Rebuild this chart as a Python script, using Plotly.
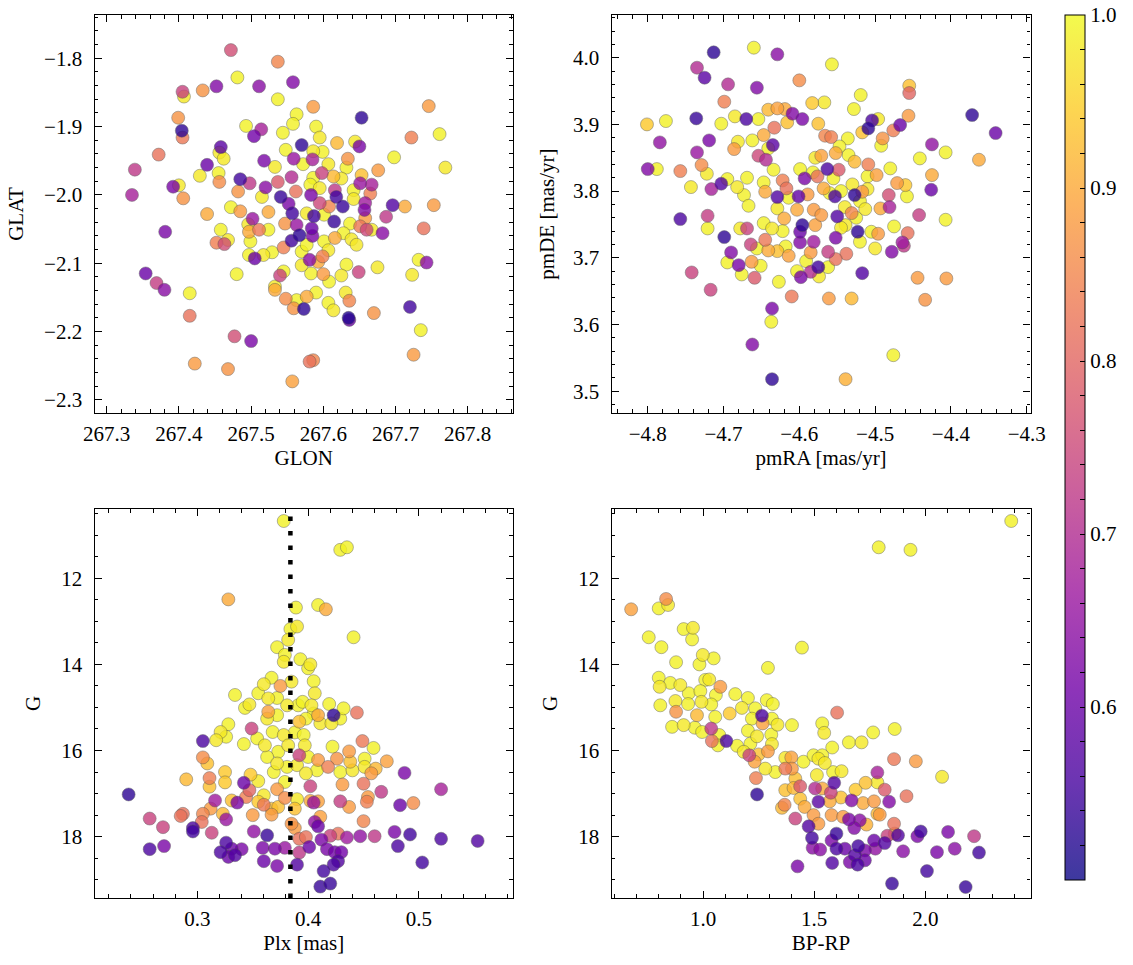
import plotly.graph_objects as go
import plotly.colors as pc

# ---------------- data ----------------
# Panel 1: sky position (GLON, GLAT) and membership probability
glon = [
    267.472, 267.537, 267.481, 267.558, 267.452, 267.511, 267.405, 267.407, 267.433, 267.537,
    267.399, 267.563, 267.558, 267.493, 267.514, 267.504, 267.404, 267.405, 267.544, 267.570,
    267.458, 267.456, 267.462, 267.548, 267.372, 267.559, 267.439, 267.518, 267.533, 267.339,
    267.429, 267.455, 267.456, 267.485, 267.498, 267.537, 267.556, 267.400, 267.392, 267.520,
    267.335, 267.406, 267.482, 267.515, 267.541, 267.552, 267.562, 267.472, 267.485, 267.439,
    267.524, 267.557, 267.502, 267.496, 267.511, 267.524, 267.547, 267.563, 267.381, 267.458,
    267.497, 267.567, 267.452, 267.463, 267.468, 267.499, 267.556, 267.545, 267.570, 267.497,
    267.505, 267.517, 267.529, 267.570, 267.354, 267.480, 267.545, 267.540, 267.369, 267.380,
    267.533, 267.533, 267.415, 267.548, 267.563, 267.559, 267.415, 267.477, 267.500, 267.422,
    267.468, 267.557,
    267.586, 267.746, 267.653, 267.722, 267.761, 267.590, 267.595, 267.619, 267.644, 267.650,
    267.586, 267.599, 267.698, 267.769, 267.572, 267.585, 267.607, 267.634, 267.632, 267.676,
    267.598, 267.614, 267.625, 267.653, 267.586, 267.582, 267.595, 267.616, 267.651, 267.667,
    267.665, 267.642, 267.583, 267.618, 267.642, 267.595, 267.608, 267.627, 267.658, 267.657,
    267.696, 267.713, 267.753, 267.687, 267.587, 267.601, 267.577, 267.615, 267.637, 267.658,
    267.651, 267.660, 267.667, 267.682, 267.739, 267.584, 267.585, 267.616, 267.628, 267.639,
    267.646, 267.601, 267.577, 267.607, 267.581, 267.599, 267.593, 267.632, 267.675, 267.649,
    267.732, 267.743, 267.583, 267.600, 267.608, 267.625, 267.723, 267.590, 267.577, 267.631,
    267.607, 267.614, 267.636, 267.573, 267.635, 267.636, 267.670, 267.720, 267.735, 267.581,
    267.586, 267.725,
]
glat = [
    -1.788, -1.805, -1.828, -1.835, -1.841, -1.841, -1.849, -1.856, -1.847, -1.860,
    -1.887, -1.882, -1.896, -1.899, -1.904, -1.914, -1.906, -1.916, -1.909, -1.927,
    -1.930, -1.938, -1.947, -1.934, -1.941, -1.947, -1.956, -1.950, -1.959, -1.963,
    -1.972, -1.968, -1.981, -1.977, -1.983, -1.981, -1.974, -1.986, -1.988, -1.989,
    -2.000, -2.005, -1.995, -2.003, -2.003, -2.013, -1.995, -2.018, -2.024, -2.028,
    -2.025, -2.027, -2.035, -2.043, -2.051, -2.051, -2.042, -2.044, -2.054, -2.051,
    -2.054, -2.059, -2.070, -2.072, -2.066, -2.068, -2.067, -2.077, -2.083, -2.088,
    -2.093, -2.088, -2.084, -2.103, -2.115, -2.116, -2.112, -2.118, -2.129, -2.139,
    -2.134, -2.139, -2.144, -2.152, -2.154, -2.166, -2.177, -2.207, -2.214, -2.247,
    -2.255, -2.273,
    -1.871, -1.870, -1.887, -1.916, -1.911, -1.900, -1.916, -1.924, -1.922, -1.929,
    -1.936, -1.937, -1.945, -1.960, -1.955, -1.948, -1.955, -1.947, -1.960, -1.964,
    -1.968, -1.973, -1.976, -1.971, -1.975, -1.985, -1.990, -1.993, -1.983, -1.985,
    -1.998, -1.993, -2.000, -2.003, -2.006, -2.012, -2.017, -2.017, -2.012, -2.022,
    -2.015, -2.017, -2.015, -2.032, -2.031, -2.029, -2.027, -2.039, -2.042, -2.034,
    -2.046, -2.051, -2.051, -2.056, -2.049, -2.049, -2.060, -2.063, -2.056, -2.065,
    -2.073, -2.068, -2.073, -2.081, -2.095, -2.090, -2.098, -2.102, -2.106, -2.113,
    -2.095, -2.099, -2.115, -2.116, -2.127, -2.118, -2.117, -2.143, -2.149, -2.143,
    -2.158, -2.169, -2.155, -2.167, -2.180, -2.183, -2.173, -2.164, -2.198, -2.244,
    -2.242, -2.234,
]
prob_sky = [
    0.76, 0.85, 0.99, 0.63, 0.63, 0.64, 0.74, 0.98, 0.87, 0.99,
    0.87, 0.99, 0.99, 0.99, 0.68, 0.61, 0.53, 0.83, 0.99, 0.53,
    0.58, 0.98, 0.98, 0.99, 0.82, 0.66, 0.60, 0.62, 0.98, 0.72,
    0.98, 0.99, 0.86, 0.55, 0.72, 0.78, 0.70, 0.98, 0.62, 0.64,
    0.68, 0.87, 0.87, 0.98, 0.54, 0.62, 0.82, 0.99, 0.88, 0.90,
    0.90, 0.55, 0.66, 0.98, 0.83, 0.99, 0.87, 0.66, 0.62, 0.99,
    0.90, 0.53, 0.84, 0.76, 0.98, 0.99, 0.55, 0.84, 0.99, 0.99,
    0.60, 0.98, 0.99, 0.98, 0.60, 0.99, 0.99, 0.74, 0.73, 0.64,
    0.98, 0.90, 0.99, 0.86, 0.99, 0.87, 0.82, 0.76, 0.62, 0.88,
    0.87, 0.89,
    0.88, 0.88, 0.53, 0.84, 0.99, 0.99, 0.98, 0.92, 0.98, 0.62,
    0.98, 0.99, 0.99, 0.98, 0.99, 0.68, 0.98, 0.87, 0.99, 0.88,
    0.74, 0.92, 0.98, 0.93, 0.99, 0.99, 0.98, 0.72, 0.66, 0.68,
    0.84, 0.99, 0.62, 0.55, 0.98, 0.75, 0.85, 0.54, 0.67, 0.63,
    0.57, 0.90, 0.88, 0.72, 0.55, 0.99, 0.98, 0.54, 0.99, 0.88,
    0.83, 0.75, 0.98, 0.64, 0.82, 0.60, 0.62, 0.90, 0.99, 0.98,
    0.98, 0.99, 0.99, 0.98, 0.64, 0.84, 0.90, 0.99, 0.98, 0.74,
    0.99, 0.64, 0.99, 0.88, 0.99, 0.98, 0.98, 0.99, 0.90, 0.98,
    0.99, 0.98, 0.85, 0.53, 0.52, 0.60, 0.87, 0.55, 0.99, 0.82,
    0.85, 0.88,
]

# Panel 2: proper motions
pmra = [
    -4.660, -4.713, -4.629, -4.735, -4.725, -4.600, -4.694, -4.656, -4.699, -4.583,
    -4.641, -4.629, -4.619, -4.609, -4.596, -4.685, -4.670, -4.654, -4.736, -4.801,
    -4.776, -4.703, -4.616, -4.575, -4.633, -4.784, -4.719, -4.681, -4.662, -4.647,
    -4.635, -4.686, -4.641, -4.735, -4.654, -4.644, -4.579, -4.800, -4.788, -4.757,
    -4.729, -4.722, -4.634, -4.599, -4.582, -4.743, -4.716, -4.703, -4.695, -4.682,
    -4.669, -4.647, -4.622, -4.617, -4.593, -4.576, -4.673, -4.645, -4.629, -4.614,
    -4.601, -4.589, -4.667, -4.629, -4.603, -4.581, -4.757, -4.721, -4.647, -4.620,
    -4.596, -4.579, -4.721, -4.678, -4.669, -4.636, -4.622, -4.599, -4.699, -4.645,
    -4.664, -4.656, -4.641, -4.629, -4.618, -4.614, -4.599, -4.585, -4.581, -4.690,
    -4.695, -4.680, -4.663, -4.651, -4.591, -4.575, -4.742, -4.676, -4.659, -4.603,
    -4.598, -4.585, -4.574, -4.717, -4.627, -4.610, -4.636, -4.637, -4.662, -4.636,
    -4.557, -4.455, -4.455, -4.519, -4.567, -4.528, -4.456, -4.372, -4.341, -4.496,
    -4.504, -4.509, -4.517, -4.467, -4.476, -4.566, -4.558, -4.536, -4.490, -4.492,
    -4.425, -4.407, -4.441, -4.363, -4.547, -4.552, -4.535, -4.527, -4.571, -4.509,
    -4.563, -4.548, -4.555, -4.480, -4.510, -4.498, -4.425, -4.471, -4.460, -4.426,
    -4.568, -4.553, -4.527, -4.517, -4.482, -4.458, -4.481, -4.493, -4.513, -4.442,
    -4.407, -4.550, -4.531, -4.571, -4.475, -4.539, -4.523, -4.496, -4.457, -4.505,
    -4.520, -4.464, -4.462, -4.552, -4.500, -4.478, -4.562, -4.538, -4.552, -4.562,
    -4.517, -4.444, -4.406, -4.434, -4.561, -4.531, -4.476, -4.539,
    -4.545, -4.530, -4.520, -4.540, -4.560, -4.510, -4.525, -4.545,
]
pmde = [
    4.015, 4.008, 4.005, 3.985, 3.970, 3.966, 3.960, 3.955, 3.934, 3.932,
    3.922, 3.924, 3.923, 3.916, 3.908, 3.912, 3.908, 3.908, 3.909, 3.900,
    3.905, 3.901, 3.903, 3.901, 3.895, 3.873, 3.876, 3.874, 3.876, 3.884,
    3.869, 3.863, 3.864, 3.858, 3.853, 3.847, 3.850, 3.833, 3.833, 3.830,
    3.839, 3.826, 3.832, 3.833, 3.828, 3.806, 3.803, 3.811, 3.818, 3.806,
    3.820, 3.813, 3.816, 3.804, 3.819, 3.822, 3.794, 3.799, 3.791, 3.790,
    3.792, 3.795, 3.778, 3.774, 3.772, 3.772, 3.758, 3.763, 3.752, 3.759,
    3.749, 3.749, 3.744, 3.744, 3.744, 3.744, 3.740, 3.739, 3.731, 3.727,
    3.720, 3.714, 3.711, 3.710, 3.717, 3.703, 3.723, 3.708, 3.724, 3.708,
    3.693, 3.689, 3.694, 3.688, 3.695, 3.686, 3.678, 3.675, 3.670, 3.680,
    3.671, 3.679, 3.672, 3.652, 3.664, 3.642, 3.624, 3.604, 3.570, 3.518,
    3.990, 3.958, 3.947, 3.944, 3.933, 3.923, 3.913, 3.914, 3.887, 3.908,
    3.906, 3.894, 3.888, 3.899, 3.891, 3.883, 3.881, 3.879, 3.879, 3.868,
    3.870, 3.858, 3.849, 3.847, 3.867, 3.857, 3.854, 3.844, 3.853, 3.840,
    3.833, 3.832, 3.819, 3.834, 3.822, 3.824, 3.824, 3.812, 3.809, 3.802,
    3.804, 3.792, 3.794, 3.799, 3.794, 3.792, 3.776, 3.774, 3.773, 3.764,
    3.757, 3.762, 3.767, 3.764, 3.747, 3.749, 3.739, 3.736, 3.737, 3.739,
    3.724, 3.723, 3.718, 3.730, 3.714, 3.709, 3.709, 3.706, 3.698, 3.686,
    3.677, 3.670, 3.669, 3.637, 3.639, 3.639, 3.554, 3.518,
    3.800, 3.810, 3.785, 3.776, 3.797, 3.803, 3.760, 3.745,
]
prob_pm = [
    0.99, 0.53, 0.64, 0.70, 0.58, 0.86, 0.70, 0.63, 0.84, 0.94,
    0.92, 0.89, 0.90, 0.63, 0.62, 0.98, 0.56, 0.99, 0.54, 0.94,
    0.99, 0.99, 0.93, 0.93, 0.82, 0.65, 0.62, 0.98, 0.99, 0.90,
    0.58, 0.88, 0.99, 0.66, 0.75, 0.70, 0.98, 0.63, 0.99, 0.84,
    0.86, 0.98, 0.99, 0.99, 0.99, 0.98, 0.68, 0.57, 0.99, 0.98,
    0.99, 0.99, 0.84, 0.82, 0.62, 0.82, 0.99, 0.90, 0.57, 0.99,
    0.59, 0.88, 0.99, 0.98, 0.90, 0.88, 0.56, 0.73, 0.99, 0.90,
    0.53, 0.89, 0.99, 0.98, 0.74, 0.98, 0.99, 0.60, 0.53, 0.83,
    0.74, 0.99, 0.90, 0.93, 0.99, 0.89, 0.63, 0.88, 0.67, 0.63,
    0.99, 0.62, 0.88, 0.99, 0.99, 0.55, 0.74, 0.99, 0.78, 0.99,
    0.62, 0.70, 0.98, 0.74, 0.99, 0.83, 0.62, 0.99, 0.63, 0.53,
    0.99, 0.93, 0.80, 0.99, 0.98, 0.99, 0.88, 0.53, 0.60, 0.98,
    0.56, 0.53, 0.93, 0.60, 0.84, 0.85, 0.84, 0.99, 0.87, 0.99,
    0.65, 0.99, 0.99, 0.90, 0.99, 0.90, 0.99, 0.92, 0.89, 0.84,
    0.56, 0.78, 0.99, 0.99, 0.99, 0.89, 0.90, 0.88, 0.94, 0.60,
    0.90, 0.56, 0.53, 0.88, 0.76, 0.99, 0.68, 0.90, 0.98, 0.73,
    0.99, 0.57, 0.85, 0.88, 0.99, 0.98, 0.53, 0.88, 0.82, 0.99,
    0.99, 0.67, 0.72, 0.62, 0.98, 0.63, 0.73, 0.82, 0.82, 0.99,
    0.57, 0.88, 0.88, 0.87, 0.88, 0.92, 0.99, 0.91,
    0.99, 0.98, 0.99, 0.98, 0.99, 0.98, 0.99, 0.98,
]

# Panel 3: parallax vs G magnitude
plx = [
    0.378, 0.328, 0.389, 0.384, 0.390, 0.372, 0.382, 0.379, 0.378, 0.393,
    0.367, 0.360, 0.375, 0.385, 0.334, 0.347, 0.343, 0.355, 0.364, 0.372,
    0.364, 0.363, 0.372, 0.381, 0.391, 0.392, 0.328, 0.321, 0.326, 0.317,
    0.349, 0.354, 0.368, 0.378, 0.388, 0.342, 0.361, 0.373, 0.305, 0.382,
    0.392, 0.363, 0.372, 0.381, 0.390, 0.305, 0.309, 0.369, 0.290, 0.311,
    0.325, 0.325, 0.311, 0.348, 0.355, 0.342, 0.347, 0.379, 0.238, 0.331,
    0.316, 0.336, 0.344, 0.360, 0.372, 0.379, 0.390, 0.355, 0.360, 0.367,
    0.373, 0.388, 0.312, 0.287, 0.285, 0.305, 0.323, 0.350, 0.367, 0.326,
    0.304, 0.257, 0.269, 0.385, 0.388, 0.296, 0.296, 0.313, 0.351, 0.363,
    0.392, 0.257, 0.270, 0.326, 0.321, 0.331, 0.340, 0.334, 0.328, 0.359,
    0.370, 0.379, 0.392, 0.360, 0.372, 0.390,
    0.429, 0.435, 0.409, 0.416, 0.441, 0.402, 0.400, 0.405, 0.406, 0.395,
    0.403, 0.409, 0.405, 0.398, 0.411, 0.419, 0.423, 0.429, 0.432, 0.421,
    0.444, 0.396, 0.397, 0.400, 0.409, 0.418, 0.408, 0.398, 0.422, 0.426,
    0.429, 0.437, 0.438, 0.440, 0.449, 0.459, 0.451, 0.451, 0.461, 0.457,
    0.450, 0.471, 0.431, 0.402, 0.487, 0.520, 0.402, 0.405, 0.409, 0.429,
    0.437, 0.454, 0.453, 0.466, 0.483, 0.495, 0.411, 0.406, 0.409, 0.450,
    0.398, 0.412, 0.420, 0.427, 0.435, 0.447, 0.460, 0.478, 0.492, 0.520,
    0.553, 0.481, 0.401, 0.417, 0.424, 0.430, 0.427, 0.423, 0.414, 0.503,
    0.411, 0.420,
]
g_plx = [
    10.67, 12.49, 12.68, 13.18, 13.12, 13.60, 13.43, 13.78, 13.94, 13.88,
    14.31, 14.46, 14.50, 14.40, 14.71, 14.93, 15.01, 14.67, 14.79, 14.78,
    15.10, 15.26, 15.18, 14.95, 14.95, 15.33, 15.39, 15.57, 15.68, 15.76,
    15.49, 15.72, 15.57, 15.64, 15.58, 15.85, 15.88, 16.03, 15.78, 15.88,
    16.11, 16.15, 16.30, 16.38, 16.34, 16.16, 16.30, 16.50, 16.67, 16.64,
    16.50, 16.74, 16.84, 16.56, 16.71, 16.75, 16.92, 16.73, 17.02, 17.16,
    17.16, 17.21, 17.08, 17.04, 16.90, 17.10, 17.13, 17.19, 17.26, 17.35,
    17.31, 17.35, 17.35, 17.47, 17.52, 17.47, 17.47, 17.50, 17.49, 17.60,
    17.66, 17.58, 17.78, 17.70, 17.80, 17.80, 17.88, 17.91, 17.88, 17.97,
    18.05, 18.29, 18.22, 18.14, 18.36, 18.28, 18.29, 18.43, 18.47, 18.26,
    18.28, 18.26, 18.37, 18.57, 18.68, 18.65,
    11.34, 11.28, 12.62, 12.72, 13.37, 14.00, 14.09, 14.39, 14.67, 14.87,
    14.95, 15.18, 15.14, 15.26, 15.37, 14.92, 15.18, 15.26, 15.02, 15.37,
    15.12, 15.64, 15.88, 16.15, 16.22, 16.38, 16.46, 16.53, 15.91, 16.19,
    16.50, 16.02, 16.26, 16.46, 15.78, 15.94, 16.19, 16.38, 16.42, 16.53,
    16.77, 16.25, 16.79, 16.83, 16.52, 16.90, 17.17, 17.21, 17.18, 17.18,
    17.31, 17.08, 17.19, 16.96, 17.27, 17.22, 17.54, 17.66, 17.76, 17.64,
    18.01, 18.07, 17.98, 17.93, 18.02, 17.99, 17.99, 17.89, 17.95, 18.05,
    18.10, 18.22, 18.24, 18.29, 18.36, 18.36, 18.57, 18.65, 18.80, 18.60,
    19.16, 19.09,
]
prob_plx = [
    0.99, 0.90, 0.99, 0.99, 0.98, 0.99, 0.98, 0.99, 0.98, 0.99,
    0.99, 0.98, 0.88, 0.98, 0.99, 0.98, 0.99, 0.99, 0.98, 0.99,
    0.89, 0.98, 0.99, 0.98, 0.99, 0.93, 0.99, 0.98, 0.99, 0.98,
    0.74, 0.99, 0.99, 0.98, 0.99, 0.99, 0.98, 0.99, 0.56, 0.98,
    0.74, 0.99, 0.98, 0.99, 0.98, 0.86, 0.93, 0.99, 0.92, 0.84,
    0.94, 0.94, 0.93, 0.94, 0.98, 0.60, 0.80, 0.99, 0.53, 0.93,
    0.67, 0.62, 0.84, 0.98, 0.88, 0.86, 0.98, 0.94, 0.83, 0.93,
    0.93, 0.93, 0.88, 0.82, 0.82, 0.85, 0.92, 0.88, 0.88, 0.66,
    0.82, 0.74, 0.74, 0.87, 0.88, 0.56, 0.55, 0.74, 0.65, 0.54,
    0.82, 0.56, 0.62, 0.56, 0.56, 0.60, 0.62, 0.57, 0.60, 0.62,
    0.62, 0.66, 0.72, 0.60, 0.62, 0.57,
    0.99, 0.99, 0.99, 0.90, 0.99, 0.98, 0.99, 0.99, 0.98, 0.99,
    0.98, 0.90, 0.99, 0.99, 0.98, 0.99, 0.53, 0.99, 0.99, 0.98,
    0.82, 0.99, 0.98, 0.99, 0.88, 0.84, 0.99, 0.98, 0.99, 0.87,
    0.99, 0.88, 0.93, 0.98, 0.83, 0.99, 0.99, 0.98, 0.92, 0.88,
    0.82, 0.89, 0.88, 0.74, 0.62, 0.68, 0.90, 0.66, 0.89, 0.73,
    0.88, 0.88, 0.84, 0.72, 0.60, 0.86, 0.89, 0.65, 0.60, 0.85,
    0.82, 0.62, 0.74, 0.82, 0.67, 0.65, 0.72, 0.62, 0.55, 0.56,
    0.57, 0.56, 0.60, 0.62, 0.61, 0.61, 0.57, 0.56, 0.55, 0.55,
    0.54, 0.54,
]

# Panel 4: colour-magnitude diagram
bp_rp = [
    0.677, 0.834, 0.801, 0.843, 0.756, 0.813, 0.913, 0.955, 0.951, 0.879,
    0.999, 1.048, 0.984, 1.445, 1.292, 0.801, 0.805, 0.853, 0.898, 0.936,
    1.010, 1.028, 0.988, 1.078, 1.058, 0.808, 0.876, 0.879, 0.933, 0.993,
    0.973, 1.037, 1.055, 1.145, 1.202, 1.175, 1.120, 1.235, 1.287, 1.314,
    0.861, 0.913, 0.963, 0.996, 1.037, 1.040, 1.073, 1.105, 1.067, 1.153,
    1.183, 1.220, 1.265, 1.268, 1.310, 1.335, 1.400, 1.202, 1.243, 1.307,
    1.213, 1.310, 1.208, 1.250, 1.292, 1.232, 1.280, 1.325, 1.370, 1.397,
    1.452, 1.497, 1.519, 1.238, 1.370, 1.400, 1.415, 1.437, 1.370, 1.407,
    1.512, 1.243, 1.355, 1.367, 1.437, 1.457, 1.504, 1.519, 1.497, 1.415,
    1.475, 1.519, 1.490, 1.493, 1.527, 1.425,
    2.386, 1.790, 1.933, 1.603, 1.536, 1.545, 1.581, 1.656, 1.713, 1.765,
    1.862, 1.859, 1.957, 2.075, 1.536, 1.548, 1.585, 1.623, 1.784, 1.784,
    1.731, 1.686, 1.817, 1.590, 1.536, 1.575, 1.620, 1.915, 1.570, 1.668,
    1.720, 1.769, 1.837, 1.784, 1.795, 1.578, 1.630, 1.656, 1.705, 1.735,
    1.680, 1.859, 1.862, 1.877, 1.829, 1.769, 1.817, 1.600, 1.578, 1.600,
    1.638, 1.698, 1.728, 1.775, 1.683, 1.728, 1.695, 1.581, 1.660, 1.900,
    1.964, 1.979, 2.052, 2.102, 2.132, 2.219, 2.241, 2.007, 1.850, 2.181,
]
g_cmd = [
    12.72, 12.48, 12.70, 12.62, 13.37, 13.60, 13.18, 13.15, 13.42, 13.95,
    13.78, 13.86, 14.00, 13.61, 14.08, 14.31, 14.52, 14.43, 14.48, 14.67,
    14.36, 14.35, 14.62, 14.52, 14.71, 14.95, 14.85, 15.10, 14.92, 14.87,
    15.18, 14.93, 15.22, 14.69, 14.78, 15.01, 15.14, 15.02, 14.83, 14.92,
    15.45, 15.41, 15.47, 15.57, 15.49, 15.78, 15.64, 15.78, 15.88, 15.89,
    16.03, 15.26, 15.19, 15.37, 15.26, 15.40, 15.41, 15.54, 15.67, 15.63,
    15.84, 15.85, 16.11, 16.09, 16.02, 16.26, 16.42, 16.50, 16.17, 16.16,
    16.26, 16.11, 16.19, 16.64, 16.42, 16.42, 16.65, 16.83, 16.92, 16.87,
    16.57, 17.02, 17.33, 17.26, 17.12, 17.31, 16.88, 17.19, 17.50, 17.58,
    17.76, 17.70, 18.03, 18.26, 18.30, 18.69,
    10.67, 11.28, 11.34, 15.12, 15.37, 15.59, 15.93, 15.81, 15.81, 15.58,
    15.50, 16.20, 16.25, 16.61, 16.11, 16.29, 16.50, 16.48, 16.51, 16.74,
    16.75, 16.91, 16.91, 16.75, 16.88, 16.98, 17.09, 17.06, 17.18, 17.16,
    17.22, 17.18, 17.19, 17.47, 17.49, 17.50, 17.54, 17.60, 17.62, 17.72,
    17.80, 17.70, 17.93, 17.97, 17.98, 18.09, 18.15, 17.93, 18.09, 18.28,
    18.28, 18.22, 18.32, 18.28, 18.43, 18.55, 18.65, 18.61, 18.59, 18.34,
    17.99, 17.88, 18.36, 17.89, 18.28, 17.99, 18.37, 18.80, 19.09, 19.17,
]
prob_cmd = [
    0.89, 0.86, 0.99, 0.98, 0.99, 0.99, 0.99, 0.98, 0.99, 0.99,
    0.98, 0.99, 0.99, 0.99, 0.99, 0.99, 0.98, 0.99, 0.98, 0.99,
    0.99, 0.98, 0.99, 0.88, 0.99, 0.99, 0.98, 0.87, 0.99, 0.98,
    0.92, 0.99, 0.99, 0.99, 0.99, 0.98, 0.94, 0.99, 0.99, 0.99,
    0.99, 0.98, 0.99, 0.99, 0.72, 0.82, 0.99, 0.56, 0.99, 0.99,
    0.98, 0.99, 0.56, 0.89, 0.99, 0.98, 0.99, 0.99, 0.98, 0.99,
    0.99, 0.98, 0.74, 0.93, 0.88, 0.89, 0.98, 0.99, 0.98, 0.89,
    0.99, 0.99, 0.98, 0.84, 0.83, 0.88, 0.93, 0.78, 0.93, 0.92,
    0.98, 0.53, 0.92, 0.85, 0.93, 0.90, 0.70, 0.58, 0.88, 0.74,
    0.57, 0.88, 0.55, 0.64, 0.64, 0.62,
    0.99, 0.99, 0.99, 0.82, 0.99, 0.98, 0.99, 0.99, 0.98, 0.99,
    0.99, 0.83, 0.88, 0.98, 0.99, 0.98, 0.99, 0.98, 0.68, 0.98,
    0.93, 0.94, 0.78, 0.57, 0.90, 0.74, 0.93, 0.82, 0.90, 0.63,
    0.90, 0.88, 0.63, 0.92, 0.88, 0.88, 0.88, 0.62, 0.64, 0.91,
    0.63, 0.82, 0.88, 0.57, 0.74, 0.60, 0.57, 0.54, 0.62, 0.56,
    0.60, 0.55, 0.62, 0.65, 0.57, 0.60, 0.56, 0.57, 0.62, 0.64,
    0.62, 0.55, 0.62, 0.62, 0.64, 0.72, 0.55, 0.55, 0.54, 0.54,
]

plx_ref = 0.384            # reference parallax (dotted line)
prob_min, prob_max = 0.5, 1.0
cbar_ticks = [0.6, 0.7, 0.8, 0.9, 1.0]

# ---------------- styling ----------------
FONT = "Liberation Serif"
FS = 21
ALPHA = 0.8

plasma = pc.sequential.Plasma
cscale = [[i / (len(plasma) - 1), c] for i, c in enumerate(plasma)]


def blend(hexc, a=ALPHA):
    r, g, b = pc.hex_to_rgb(hexc)
    return "rgb({:.0f},{:.0f},{:.0f})".format(r * a + 255 * (1 - a), g * a + 255 * (1 - a), b * a + 255 * (1 - a))


cscale_bar = [[i / (len(plasma) - 1), blend(c)] for i, c in enumerate(plasma)]


def scatter(x, y, p, xa, ya):
    order = sorted(range(len(p)), key=lambda i: -p[i])
    return go.Scatter(
        x=[x[i] for i in order], y=[y[i] for i in order], mode="markers",
        xaxis=xa, yaxis=ya, showlegend=False, hoverinfo="skip",
        marker=dict(size=13, color=[p[i] for i in order], colorscale=cscale,
                    cmin=prob_min, cmax=prob_max, opacity=ALPHA,
                    line=dict(width=0.5, color="#4a4a4a")),
    )


fig = go.Figure()
fig.add_trace(scatter(glon, glat, prob_sky, "x", "y"))
fig.add_trace(scatter(pmra, pmde, prob_pm, "x2", "y2"))
fig.add_trace(scatter(plx, g_plx, prob_plx, "x3", "y3"))
fig.add_trace(scatter(bp_rp, g_cmd, prob_cmd, "x4", "y4"))

# colour bar (drawn with alpha-blended plasma colours, like the reference)
cb_vals = [round(prob_min + 0.02 * k, 2) for k in range(1, 26)]
cb_text = ["{:.1f}".format(v) if any(abs(v - t) < 1e-9 for t in cbar_ticks) else "" for v in cb_vals]
fig.add_trace(go.Scatter(
    x=[None], y=[None], mode="markers", xaxis="x", yaxis="y", showlegend=False, hoverinfo="skip",
    marker=dict(color=[prob_min], colorscale=cscale_bar, cmin=prob_min, cmax=prob_max, showscale=True,
                colorbar=dict(x=1065 / 1133, xanchor="left", y=1 - 15 / 965, yanchor="top",
                              len=865, lenmode="pixels", thickness=20, thicknessmode="pixels",
                              outlinewidth=1, outlinecolor="black", xpad=0, ypad=0,
                              ticks="inside", ticklen=5, tickwidth=1, tickcolor="black",
                              tickvals=cb_vals, ticktext=cb_text,
                              tickfont=dict(family=FONT, size=FS, color="black"))),
))

XL = [94.5 / 1133, 513 / 1133]
XR = [611.5 / 1133, 1030.5 / 1133]
YT = [1 - 413 / 965, 1 - 15 / 965]
YB = [1 - 898 / 965, 1 - 509 / 965]


def axis(domain, anchor, rng, dtick, mdtick, fmt, title, standoff, lstand):
    return dict(
        domain=domain, anchor=anchor, range=rng, dtick=dtick, tick0=0, tickformat=fmt,
        automargin=False,
        ticks="inside", ticklen=7, tickwidth=1, tickcolor="black",
        showline=True, linewidth=1.2, linecolor="black", mirror="allticks",
        showgrid=False, zeroline=False,
        minor=dict(ticks="inside", ticklen=3.5, tickwidth=0.8, tickcolor="black", dtick=mdtick, showgrid=False),
        tickfont=dict(family=FONT, size=FS, color="black"),
        ticklabelstandoff=lstand,
        title=dict(text=title, font=dict(family=FONT, size=FS, color="black"), standoff=standoff),
    )


fig.update_layout(
    width=1133, height=965, margin=dict(l=0, r=0, t=0, b=0, autoexpand=False),
    paper_bgcolor="white", plot_bgcolor="white",
    font=dict(family=FONT, size=FS, color="black"),
    xaxis=axis(XL, "y", [267.2831, 267.8627], 0.1, 0.02, ".1f", "GLON", 3, 2),
    yaxis=axis(YT, "x", [-2.3193, -1.7366], 0.1, 0.02, ".1f", "GLAT", 14, 7),
    xaxis2=axis(XR, "y2", [-4.8478, -4.295], 0.1, 0.02, ".1f", "pmRA [mas/yr]", 3, 2),
    yaxis2=axis(YT, "x2", [3.4673, 4.064], 0.1, 0.02, ".1f", "pmDE [mas/yr]", 12, 7),
    xaxis3=axis(XL, "y3", [0.2072, 0.5849], 0.1, 0.02, ".1f", "Plx [mas]", 3, 2),
    yaxis3=axis(YB, "x3", [19.425, 10.391], 2, 0.5, "d", "G", 14, 7),
    xaxis4=axis(XR, "y4", [0.5886, 2.4726], 0.5, 0.1, ".1f", "BP-RP", 3, 2),
    yaxis4=axis(YB, "x4", [19.425, 10.391], 2, 0.5, "d", "G", 14, 7),
)

fig.add_shape(type="line", xref="x3", yref="y3 domain", x0=plx_ref, x1=plx_ref, y0=0, y1=1,
              line=dict(color="black", width=4.5, dash="4.5px,10px"), layer="above")

fig.write_html("out.html", config={"displayModeBar": False},
               post_script="document.body.style.margin='0';")
